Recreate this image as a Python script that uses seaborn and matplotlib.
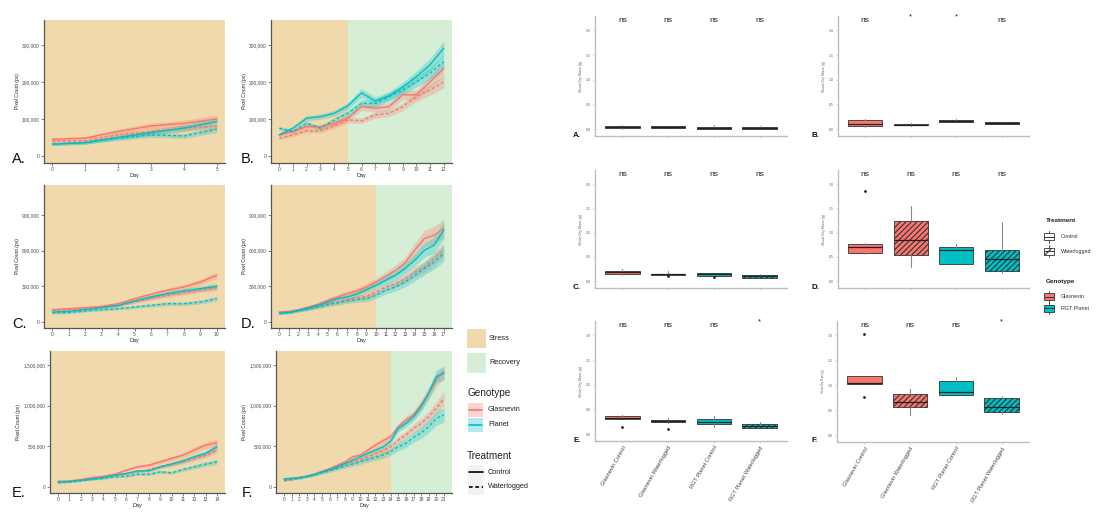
import numpy as np
import pandas as pd
import matplotlib
matplotlib.use("Agg")
import matplotlib.pyplot as plt
import matplotlib.ticker as mticker
from matplotlib.patches import Rectangle
from matplotlib.lines import Line2D
import seaborn as sns

# ---------------- growth curves: mean pixel count per group ----------------
days_a = list(range(6))
a_glas_ctrl = [45000, 48000, 66000, 81000, 88000, 100000]
a_glas_wl = [40000, 41000, 57000, 66000, 75000, 80000]
a_plan_ctrl = [32000, 36000, 50000, 63000, 75000, 93000]
a_plan_wl = [32000, 36000, 48000, 57000, 54000, 72000]

days_b = list(range(13))
b_glas_ctrl = [57000, 66000, 79000, 79000, 88000, 102000, 133000, 129000, 133000, 165000, 165000, 200000, 235000]
b_glas_wl = [48000, 57000, 68000, 68000, 81000, 97000, 95000, 111000, 115000, 133000, 160000, 178000, 200000]
b_plan_ctrl = [57000, 75000, 102000, 106000, 115000, 135000, 170000, 149000, 162000, 186000, 214000, 246000, 291000]
b_plan_wl = [75000, 66000, 88000, 75000, 97000, 115000, 142000, 142000, 160000, 178000, 200000, 223000, 255000]

days_c = list(range(11))
c_glas_ctrl = [104000, 112000, 121000, 132000, 154000, 196000, 233000, 266000, 294000, 336000, 392000]
c_glas_wl = [98000, 103000, 115000, 124000, 137000, 170000, 198000, 225000, 246000, 268000, 289000]
c_plan_ctrl = [84000, 90000, 104000, 121000, 140000, 177000, 210000, 238000, 261000, 280000, 300000]
c_plan_wl = [76000, 79000, 93000, 104000, 112000, 126000, 140000, 154000, 154000, 168000, 196000]

days_d = list(range(18))
d_glas_ctrl = [84000, 90000, 104000, 126000, 149000, 182000, 210000, 238000, 261000, 294000, 336000, 384000,
               434000, 496000, 603000, 701000, 729000, 785000]
d_glas_wl = [76000, 84000, 98000, 112000, 132000, 154000, 168000, 188000, 205000, 216000, 252000, 294000,
             322000, 364000, 420000, 462000, 533000, 603000]
d_plan_ctrl = [76000, 82000, 98000, 118000, 140000, 168000, 196000, 210000, 233000, 272000, 308000, 350000,
               392000, 449000, 519000, 603000, 645000, 771000]
d_plan_wl = [70000, 76000, 93000, 109000, 126000, 146000, 160000, 177000, 188000, 196000, 224000, 266000,
             294000, 336000, 392000, 449000, 505000, 575000]

days_e = list(range(15))
e_glas_ctrl = [70000, 74000, 90000, 115000, 131000, 156000, 205000, 247000, 267000, 308000, 349000, 390000,
               452000, 514000, 543000]
e_glas_wl = [62000, 66000, 82000, 99000, 123000, 144000, 164000, 185000, 214000, 247000, 280000, 308000,
             349000, 390000, 452000]
e_plan_ctrl = [58000, 66000, 82000, 99000, 115000, 144000, 164000, 197000, 197000, 247000, 280000, 320000,
               370000, 411000, 493000]
e_plan_wl = [49000, 57000, 74000, 90000, 103000, 123000, 131000, 156000, 156000, 185000, 173000, 214000,
             247000, 280000, 308000]

days_f = list(range(22))
f_glas_ctrl = [90000, 99000, 115000, 131000, 156000, 193000, 226000, 267000, 308000, 370000, 390000, 452000,
               514000, 567000, 616000, 740000, 822000, 883000, 1007000, 1150000, 1315000, 1418000]
f_glas_wl = [74000, 90000, 115000, 131000, 156000, 185000, 214000, 247000, 280000, 308000, 337000, 370000,
             411000, 444000, 493000, 575000, 637000, 719000, 780000, 863000, 966000, 1089000]
f_plan_ctrl = [99000, 107000, 115000, 131000, 156000, 185000, 214000, 247000, 288000, 329000, 370000, 411000,
               452000, 493000, 560000, 719000, 780000, 863000, 986000, 1150000, 1356000, 1397000]
f_plan_wl = [82000, 90000, 103000, 123000, 144000, 173000, 197000, 226000, 255000, 280000, 308000, 337000,
             362000, 390000, 431000, 493000, 534000, 608000, 665000, 740000, 842000, 883000]

# last day of the stress phase in each experiment (None = stress throughout)
stress_end = [None, 5, None, 10, None, 14]
# relative standard error used for the ribbons (GC, GW, PC, PW)
se_frac = [[0.10, 0.10, 0.12, 0.12], [0.08, 0.08, 0.07, 0.07], [0.07, 0.08, 0.08, 0.10],
           [0.10, 0.10, 0.10, 0.12], [0.08, 0.08, 0.08, 0.10], [0.06, 0.08, 0.06, 0.10]]

# ---------------- shoot dry mass boxplots ----------------
box_groups = ["Glasnevin Control", "Glasnevin Waterlogged", "RGT Planet Control", "RGT Planet Waterlogged"]
box_whislo = [[0.01, 0.02, 0.01, 0.01], [0.05, 0.07, 0.15, 0.10], [0.13, 0.09, 0.11, 0.06],
              [0.57, 0.30, 0.36, 0.17], [0.30, 0.23, 0.14, 0.12], [1.02, 0.40, 0.81, 0.42]]
box_q1 = [[0.02, 0.02, 0.01, 0.00], [0.06, 0.08, 0.15, 0.10], [0.15, 0.12, 0.11, 0.06],
          [0.59, 0.54, 0.36, 0.22], [0.30, 0.24, 0.20, 0.12], [1.02, 0.56, 0.81, 0.46]]
box_med = [[0.05, 0.04, 0.03, 0.03], [0.10, 0.09, 0.17, 0.12], [0.19, 0.14, 0.15, 0.10],
           [0.71, 0.84, 0.64, 0.45], [0.33, 0.26, 0.24, 0.17], [1.04, 0.67, 0.86, 0.56]]
box_q3 = [[0.07, 0.06, 0.05, 0.05], [0.18, 0.11, 0.19, 0.14], [0.22, 0.15, 0.16, 0.13],
          [0.77, 1.23, 0.71, 0.64], [0.36, 0.28, 0.31, 0.21], [1.19, 0.83, 1.08, 0.75]]
box_whishi = [[0.09, 0.07, 0.09, 0.07], [0.20, 0.12, 0.20, 0.15], [0.26, 0.20, 0.17, 0.14],
              [0.79, 1.55, 0.77, 1.21], [0.39, 0.32, 0.36, 0.24], [1.19, 0.93, 1.16, 0.79]]
box_fliers = [[[], [], [], []], [[], [], [], []], [[], [0.10], [0.08], []],
              [[1.85], [], [], []], [[0.15], [0.11], [], []], [[2.02, 0.77], [], [], []]]
box_sig = [["ns", "ns", "ns", "ns"], ["ns", "*", "*", "ns"], ["ns", "ns", "ns", "ns"],
           ["ns", "ns", "ns", "ns"], ["ns", "ns", "ns", "*"], ["ns", "ns", "ns", "*"]]

panel_letters = ["A.", "B.", "C.", "D.", "E.", "F."]

# ---------------- styling ----------------
sns.set_theme(style="ticks")
plt.rcParams["font.family"] = ["Liberation Sans", "DejaVu Sans"]
plt.rcParams["hatch.linewidth"] = 0.8

GLAS = "#F8766D"
PLAN = "#00BFC4"
STRESS = "#F1D9AE"
RECOV = "#D6EED6"
AXC = "#555555"
HATCH = "//////"

W, H = 1096, 512
fig = plt.figure(figsize=(W / 100, H / 100), dpi=100)


def px_rect(x0, y0, x1, y1):
    return [x0 / W, 1 - y1 / H, (x1 - x0) / W, (y1 - y0) / H]


line_rects = [(44, 20, 225, 163), (271, 20, 452, 163), (44, 185, 225, 328),
              (271, 185, 452, 328), (50, 351, 225, 493), (276, 351, 452, 493)]
line_days = [days_a, days_b, days_c, days_d, days_e, days_f]
line_series = [
    (a_glas_ctrl, a_glas_wl, a_plan_ctrl, a_plan_wl),
    (b_glas_ctrl, b_glas_wl, b_plan_ctrl, b_plan_wl),
    (c_glas_ctrl, c_glas_wl, c_plan_ctrl, c_plan_wl),
    (d_glas_ctrl, d_glas_wl, d_plan_ctrl, d_plan_wl),
    (e_glas_ctrl, e_glas_wl, e_plan_ctrl, e_plan_wl),
    (f_glas_ctrl, f_glas_wl, f_plan_ctrl, f_plan_wl),
]
line_yticks = [range(0, 300001, 100000)] * 2 + [range(0, 900001, 300000)] * 2 + [range(0, 1500001, 500000)] * 2
line_ylims = [(-19000, 367000)] * 2 + [(-50000, 1150000)] * 2 + [(-75000, 1670000)] * 2
group_keys = [("Glasnevin", "Control"), ("Glasnevin", "Waterlogged"),
              ("Planet", "Control"), ("Planet", "Waterlogged")]

for i in range(6):
    ax = fig.add_axes(px_rect(*line_rects[i]))
    days = line_days[i]
    n = days[-1]
    x0, x1 = -0.05 * n, 1.05 * n
    if stress_end[i] is None:
        ax.axvspan(x0, x1, color=STRESS, lw=0, zorder=0)
    else:
        ax.axvspan(x0, stress_end[i], color=STRESS, lw=0, zorder=0)
        ax.axvspan(stress_end[i], x1, color=RECOV, lw=0, zorder=0)

    rows = []
    for (geno, trt), vals, frac in zip(group_keys, line_series[i], se_frac[i]):
        col = GLAS if geno == "Glasnevin" else PLAN
        v = np.asarray(vals, dtype=float)
        ax.fill_between(days, v * (1 - frac), v * (1 + frac), color=col, alpha=0.28, lw=0, zorder=1)
        for d, y in zip(days, vals):
            rows.append({"Day": d, "Pixels": y, "Genotype": geno, "Treatment": trt})
    df = pd.DataFrame(rows)
    sns.lineplot(data=df, x="Day", y="Pixels", hue="Genotype", style="Treatment",
                 palette={"Glasnevin": GLAS, "Planet": PLAN},
                 dashes={"Control": "", "Waterlogged": (2.2, 1.6)},
                 lw=1.0, ax=ax, legend=False, zorder=2)

    ax.set_xlim(x0, x1)
    ax.set_ylim(*line_ylims[i])
    ax.set_xticks(days)
    ax.set_yticks(list(line_yticks[i]))
    ax.yaxis.set_major_formatter(mticker.StrMethodFormatter("{x:,.0f}"))
    for s in ["top", "right"]:
        ax.spines[s].set_visible(False)
    for s in ["left", "bottom"]:
        ax.spines[s].set_color(AXC)
        ax.spines[s].set_linewidth(0.9)
    ax.tick_params(axis="both", length=2, width=0.5, color=AXC, labelsize=3.5,
                   labelcolor="#4D4D4D", pad=1.2)
    ax.set_xlabel("Day", fontsize=4.0, labelpad=0.4)
    ax.set_ylabel("Pixel Count (px)", fontsize=3.6, labelpad=1.5)

# ---------------- boxplot panels ----------------
box_rects = [(595, 16, 787, 136), (838, 16, 1029, 136), (595, 170, 787, 288),
             (838, 170, 1029, 288), (595, 321, 787, 441), (837, 321, 1029, 442)]
box_cols = [GLAS, GLAS, PLAN, PLAN]
box_hatch = ["", HATCH, "", HATCH]

for i in range(6):
    ax = fig.add_axes(px_rect(*box_rects[i]))
    stats = []
    for j in range(4):
        stats.append({"whislo": box_whislo[i][j], "q1": box_q1[i][j], "med": box_med[i][j],
                      "q3": box_q3[i][j], "whishi": box_whishi[i][j], "fliers": box_fliers[i][j]})
    bp = ax.bxp(stats, positions=[1, 2, 3, 4], widths=0.75, patch_artist=True, showcaps=False,
                boxprops=dict(linewidth=0.6, edgecolor="#333333"),
                medianprops=dict(color="#222222", linewidth=0.9),
                whiskerprops=dict(color="#8A8A8A", linewidth=0.8),
                flierprops=dict(marker="o", markersize=1.0, markerfacecolor="#222222",
                                markeredgecolor="#222222"))
    for patch, c, h in zip(bp["boxes"], box_cols, box_hatch):
        patch.set_facecolor(c)
        patch.set_hatch(h)
    for j, lab in enumerate(box_sig[i]):
        if lab == "*":
            ax.text(j + 1, 2.27, "*", ha="center", va="center", fontsize=5.5, color="#222222", clip_on=False)
        else:
            ax.text(j + 1, 2.2, lab, ha="center", va="center", fontsize=6.0, color="#222222", clip_on=False)
    ax.set_xlim(0.4, 4.6)
    ax.set_ylim(-0.14, 2.29)
    ax.set_yticks([0, 0.5, 1.0, 1.5, 2.0])
    ax.set_yticklabels(["0.0", "0.5", "1.0", "1.5", "2.0"])
    ax.set_xticks([1, 2, 3, 4])
    if i >= 4:
        ax.set_xticklabels(box_groups, rotation=60, ha="right", rotation_mode="anchor",
                           fontsize=4.1, color="#444444")
    else:
        ax.set_xticklabels([])
    for s in ["top", "right"]:
        ax.spines[s].set_visible(False)
    for s in ["left", "bottom"]:
        ax.spines[s].set_color("#BDBDBD")
        ax.spines[s].set_linewidth(1.0)
    ax.tick_params(axis="y", length=1.2, width=0.4, color="#BDBDBD", labelsize=2.6,
                   labelcolor="#666666", pad=1.5)
    ax.tick_params(axis="x", length=1.5, width=0.4, color="#BDBDBD", pad=1.5)
    ax.set_ylabel("Shoot Dry Mass (g)", fontsize=2.6 if i < 5 else 2.0, color="#666666", labelpad=2)

# ---------------- overlay: panel letters and legends ----------------
ov = fig.add_axes([0, 0, 1, 1])
ov.set_xlim(0, W)
ov.set_ylim(H, 0)
ov.axis("off")

line_letter_pos = [(12, 163), (241, 163), (12, 328), (241, 328), (12, 497), (242, 497)]
for (x, y), lab in zip(line_letter_pos, panel_letters):
    ov.text(x, y, lab, fontsize=10.5, ha="left", va="baseline", color="#111111")

box_letter_pos = [(573, 137), (812, 137), (573, 289), (812, 289), (573, 442), (812, 442)]
for (x, y), lab in zip(box_letter_pos, panel_letters):
    ov.text(x, y, lab, fontsize=5.8, fontweight="bold", ha="left", va="baseline", color="#111111")

# legend for growth curves
ov.add_patch(Rectangle((467, 329), 19, 19, facecolor=STRESS, edgecolor="none"))
ov.text(489, 339, "Stress", fontsize=5.3, va="center", ha="left", color="#222222")
ov.add_patch(Rectangle((467, 353), 19, 20, facecolor=RECOV, edgecolor="none"))
ov.text(489, 363, "Recovery", fontsize=5.3, va="center", ha="left", color="#222222")
ov.text(467, 393, "Genotype", fontsize=7.2, va="center", ha="left", color="#222222")
for y, col, lab in [(409.5, GLAS, "Glasnevin"), (424.5, PLAN, "Planet")]:
    ov.add_patch(Rectangle((468, y - 7), 15, 14, facecolor=col, alpha=0.3, edgecolor="none"))
    ov.add_line(Line2D([469, 482], [y, y], color=col, lw=1.2))
    ov.text(488, y, lab, fontsize=5.3, va="center", ha="left", color="#222222")
ov.text(467, 456, "Treatment", fontsize=7.2, va="center", ha="left", color="#222222")
for y, ls, lab in [(472, "-", "Control"), (487, (0, (2.2, 1.6)), "Waterlogged")]:
    ov.add_patch(Rectangle((468, y - 7.5), 16, 15, facecolor="#F2F2F2", edgecolor="none"))
    ov.add_line(Line2D([469, 483], [y, y], color="black", lw=1.2, linestyle=ls))
    ov.text(488, y, lab, fontsize=5.3, va="center", ha="left", color="#222222")


# legend for the boxplots
def box_icon(xc, yc, face, hatch):
    ov.add_line(Line2D([xc, xc], [yc - 6, yc + 6], color="#333333", lw=0.6, zorder=3))
    r = Rectangle((xc - 5, yc - 3.5), 10, 7, facecolor=face, edgecolor="#333333", lw=0.6, hatch=hatch, zorder=4)
    ov.add_patch(r)
    ov.add_line(Line2D([xc - 5, xc + 5], [yc, yc], color="#333333", lw=0.7, zorder=5))


ov.text(1046, 220, "Treatment", fontsize=4.6, fontweight="bold", va="center", ha="left", color="#222222")
box_icon(1049, 236.5, "white", "")
ov.text(1061, 236.5, "Control", fontsize=3.9, va="center", ha="left", color="#333333")
box_icon(1049, 251, "white", "///")
ov.text(1061, 251, "Waterlogged", fontsize=3.9, va="center", ha="left", color="#333333")
ov.text(1046, 281, "Genotype", fontsize=4.6, fontweight="bold", va="center", ha="left", color="#222222")
box_icon(1049, 296.5, GLAS, "")
ov.text(1061, 296.5, "Glasnevin", fontsize=3.9, va="center", ha="left", color="#333333")
box_icon(1049, 308, PLAN, "")
ov.text(1061, 308, "RGT Planet", fontsize=3.9, va="center", ha="left", color="#333333")

fig.savefig("out.png", dpi=100)
